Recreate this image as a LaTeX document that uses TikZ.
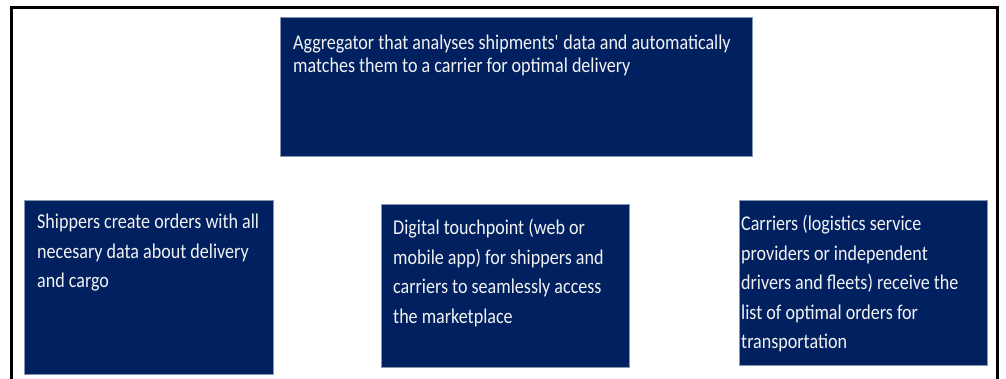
\documentclass[tikz,border=0pt]{standalone}
\usepackage{fontspec}
\setmainfont[FakeStretch=0.86]{Carlito}
\definecolor{navy}{HTML}{002060}
\definecolor{edgec}{HTML}{8496B0}
\definecolor{txt}{HTML}{F2F2F2}
\begin{document}
\begin{tikzpicture}[x=1pt,y=-1pt,
 box/.style={draw=edgec, line width=0.8pt, fill=navy, inner sep=0pt, outer sep=0pt, anchor=north west},
 boxtext/.style={anchor=north west, text=txt, align=left, inner sep=0pt, font=\fontsize{21}{29.5}\selectfont},
 toptext/.style={boxtext, font=\fontsize{21}{23}\selectfont}]
\useasboundingbox (0,0) rectangle (1006,378);
\coordinate (fbl) at (11,380);
\coordinate (ftl) at (11,7);
\coordinate (ftr) at (997,7);
\coordinate (fbr) at (997,380);
\draw[line width=3pt] (fbl) -- (ftl) -- (ftr) -- (fbr);
\node[box, minimum width=472pt, minimum height=139pt] (agg) at (280,17) {};
\node[box, minimum width=249pt, minimum height=174pt] (ship) at (24,200) {};
\node[box, minimum width=248pt, minimum height=163pt] (dig) at (381,204) {};
\node[box, minimum width=248pt, minimum height=165pt] (carr) at (739,200) {};
\node[toptext] (aggt) at (293,35) {Aggregator that analyses shipments\textquotesingle{} data and automatically\\matches them to a carrier for optimal delivery};
\node[boxtext] (shipt) at (37,214) {Shippers create orders with all\\necesary data about delivery\\and cargo};
\node[boxtext] (digt) at (393,219) {Digital touchpoint (web or\\mobile app) for shippers and\\carriers to seamlessly access\\the marketplace};
\node[boxtext] (carrt) at (741,215) {Carriers (logistics service\\providers or independent\\drivers and fleets) receive the\\list of optimal orders for\\transportation};
\end{tikzpicture}
\end{document}
